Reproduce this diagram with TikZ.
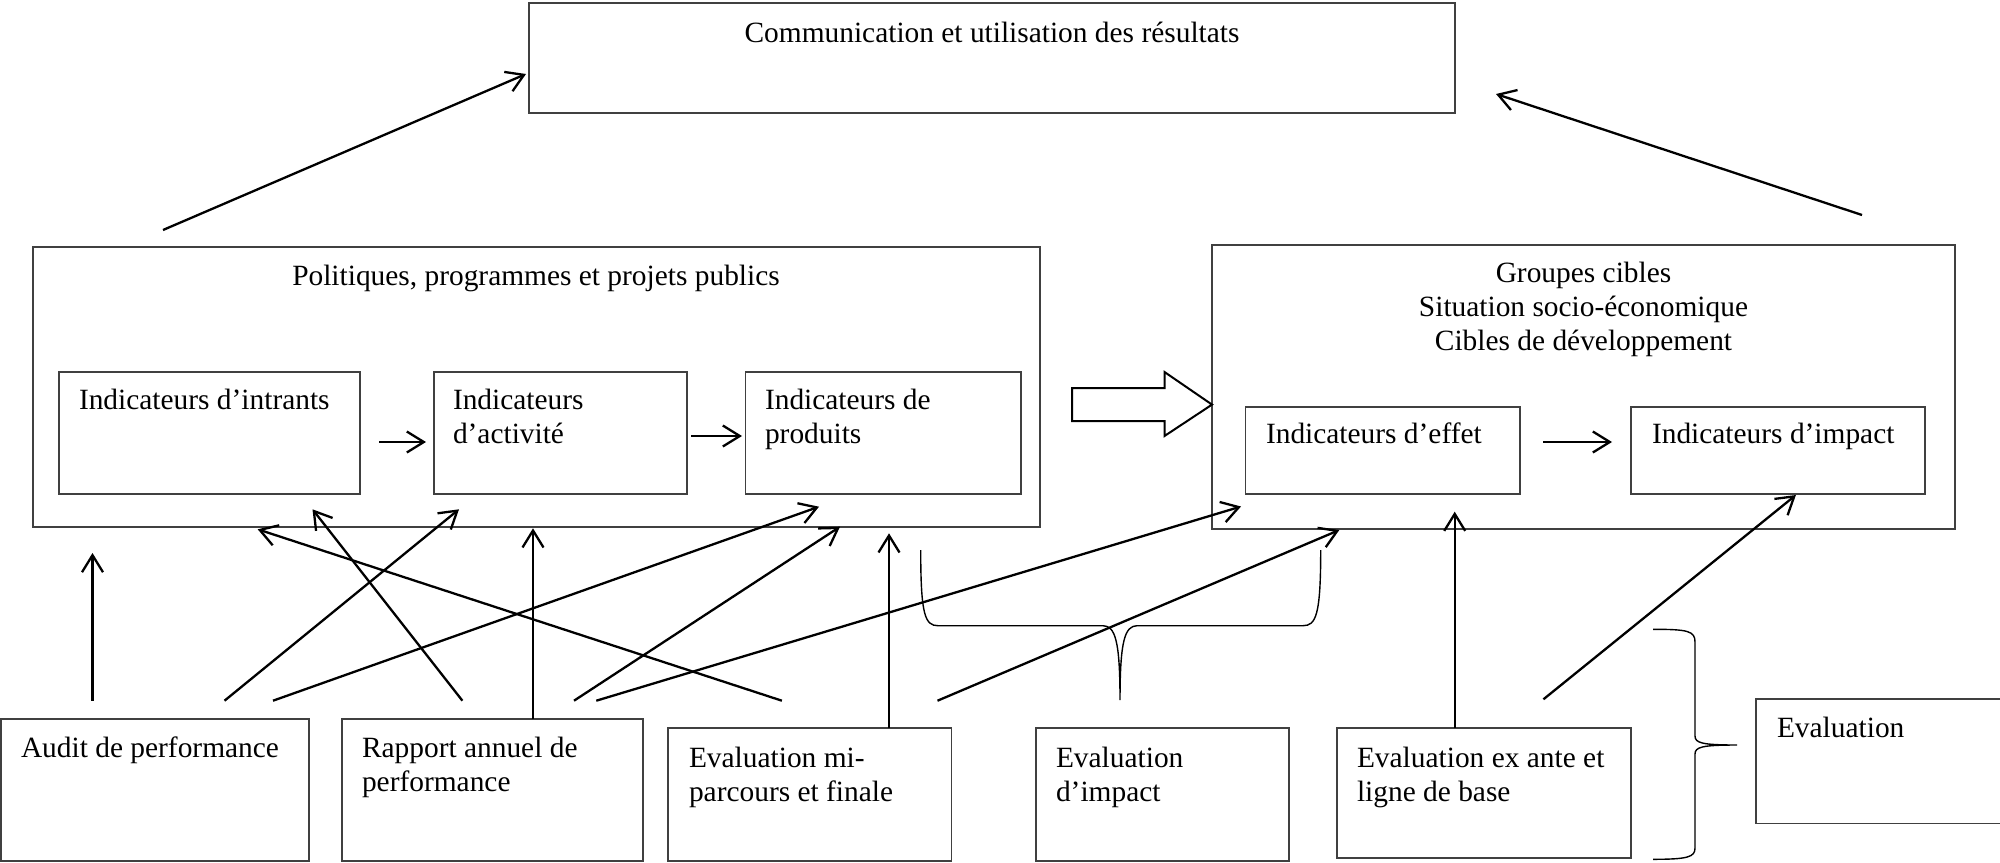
\documentclass[tikz,border=0pt]{standalone}
\usepackage{fontspec}
\setmainfont{Liberation Serif}
\usetikzlibrary{arrows.meta,fit}
\begin{document}
\begin{tikzpicture}[x=0.5pt,y=-0.5pt,
  box/.style={draw=black!75, line width=0.7pt, inner sep=0pt, outer sep=0pt},
  lbl/.style={font=\fontsize{14.7}{17}\selectfont, inner sep=0pt, outer sep=0pt, align=left, anchor=base west},
  ttl/.style={font=\fontsize{14.7}{17}\selectfont, inner sep=0pt, outer sep=0pt, align=center, anchor=base},
  arr/.style={line width=1.15pt, -{Straight Barb[length=8.5pt,width=10.5pt,line width=1.15pt]}},
  brace/.style={line width=0.7pt}]
\clip (0,0) rectangle (2000,862);
\useasboundingbox (0,0) rectangle (2000,862);

% --- top box
\node[box, fit={(529,3) (1455,113)}] (comm) {};
\node[ttl] (commT) at (992,42) {Communication et utilisation des résultats};

% --- left block: public policies
% (multi-line labels are placed by the baseline of their last line)
\node[box, fit={(33,247) (1040,527)}] (pol) {};
\node[ttl] (polT) at (536,285) {Politiques, programmes et projets publics};
\node[box, fit={(59,372) (360,494)}] (intr) {};
\node[box, fit={(434,372) (687,494)}] (act) {};
\node[box, fit={(745.5,372) (1021,494)}] (prod) {};
\node[lbl] (intrT) at (79,409) {Indicateurs d’intrants};
\node[lbl] (actT) at (453,443) {Indicateurs\\d’activité};
\node[lbl] (prodT) at (765,443) {Indicateurs de\\produits};

% --- right block: target groups
\node[box, fit={(1212,245) (1955,529)}] (grp) {};
\node[ttl] (grpT) at (1583.5,350) {Groupes cibles\\Situation socio-économique\\Cibles de développement};
\node[box, fit={(1245.5,407) (1520,494)}] (eff) {};
\node[box, fit={(1631,407) (1925,494)}] (imp) {};
\node[lbl] (effT) at (1266,443.5) {Indicateurs d’effet};
\node[lbl] (impT) at (1652,443.5) {Indicateurs d’impact};

% --- bottom row: evaluation tools
\node[box, fit={(1,719) (309,861)}] (audit) {};
\node[box, fit={(342,719) (643,861)}] (rap) {};
\node[box, fit={(668,728) (951.5,861)}] (evmi) {};
\node[box, fit={(1036,728) (1289,861)}] (evimp) {};
\node[box, fit={(1337,728) (1631,858)}] (exante) {};
\node[box, fit={(1756,699) (2020,823.3)}] (eval) {};
\node[lbl] (auditT) at (21,757) {Audit de performance};
\node[lbl] (rapT) at (362,791) {Rapport annuel de\\performance};
\node[lbl] (evmiT) at (689,801) {Evaluation mi-\\parcours et finale};
\node[lbl] (evimpT) at (1056,801) {Evaluation\\d’impact};
\node[lbl] (exanteT) at (1357,801) {Evaluation ex ante et\\ligne de base};
\node[lbl] (evalT) at (1777,737) {Evaluation};

% --- chain arrows inside the blocks
\coordinate (a1s) at (379,442); \coordinate (a1e) at (426,442);
\coordinate (a2s) at (691,436); \coordinate (a2e) at (742,436);
\coordinate (a3s) at (1543,442); \coordinate (a3e) at (1612,442);
\draw[arr] (a1s) -- (a1e);
\draw[arr] (a2s) -- (a2e);
\draw[arr] (a3s) -- (a3e);

% --- hollow arrow from policies to target groups
\draw[line width=1pt, line join=miter]
  (1072,388) -- (1164.5,388) -- (1164.5,372) -- (grp.west |- 0,404.6)
  -- (1164.5,436) -- (1164.5,421) -- (1072,421) -- cycle;

% --- arrows up to communication
\coordinate (u1s) at (163,230); \coordinate (u1e) at (526,74);
\coordinate (u2s) at (1862,215); \coordinate (u2e) at (1496,94);
\draw[arr] (u1s) -- (u1e);
\draw[arr] (u2s) -- (u2e);

% --- arrows from the evaluation tools
\coordinate (s1) at (92.5,700.7);   \coordinate (t1) at (92.5,553);
\coordinate (s2) at (224.5,700.7);  \coordinate (t2) at (459,509.3);
\coordinate (s3) at (273,700.7);    \coordinate (t3) at (819,506.7);
\coordinate (s4) at (462.4,700.7);  \coordinate (t4) at (312.5,509.3);
\coordinate (t5) at (533,528.3);
\coordinate (s6) at (574,700.7);    \coordinate (t6) at (840,526.7);
\coordinate (s7) at (596.3,700.7);  \coordinate (t7) at (1241,506.5);
\coordinate (s8) at (781.9,700.7);  \coordinate (t8) at (257.7,529.3);
\coordinate (t9) at (889,533.3);
\coordinate (s10) at (937.5,700.7); \coordinate (t10) at (1339.3,530);
\coordinate (t11) at (1454.7,511.7);
\coordinate (s12) at (1543.4,699.3); \coordinate (t12) at (1795.9,495);

\draw[arr] (s1) -- (t1);
\draw[arr] (s2) -- (t2);
\draw[arr] (s3) -- (t3);
\draw[arr] (s4) -- (t4);
\draw[arr] (rap.north -| t5) -- (t5);
\draw[arr] (s6) -- (t6);
\draw[arr] (s7) -- (t7);
\draw[arr] (s8) -- (t8);
\draw[arr] (evmi.north -| t9) -- (t9);
\draw[arr] (s10) -- (t10);
\draw[arr] (exante.north -| t11) -- (t11);
\draw[arr] (s12) -- (t12);

% --- brace over the impact evaluation
\draw[brace] (920.7,550) .. controls (920.7,615) and (925,625.7) .. (938,625.7)
  -- (1103,625.7) .. controls (1115,626) and (1120,640) .. (1120,700)
  .. controls (1120,640) and (1125,626) .. (1137,625.7)
  -- (1303,625.7) .. controls (1316,625.7) and (1320.7,615) .. (1320.7,550);

% --- brace grouping the evaluations
\draw[brace] (1653,629.3) .. controls (1688,629.3) and (1695,631) .. (1695,642)
  -- (1695,736) .. controls (1695,743) and (1702,745) .. (1737,745)
  .. controls (1702,745) and (1695,747) .. (1695,754)
  -- (1695,848) .. controls (1695,857) and (1688,859.3) .. (1653,859.3);
\end{tikzpicture}
\end{document}
